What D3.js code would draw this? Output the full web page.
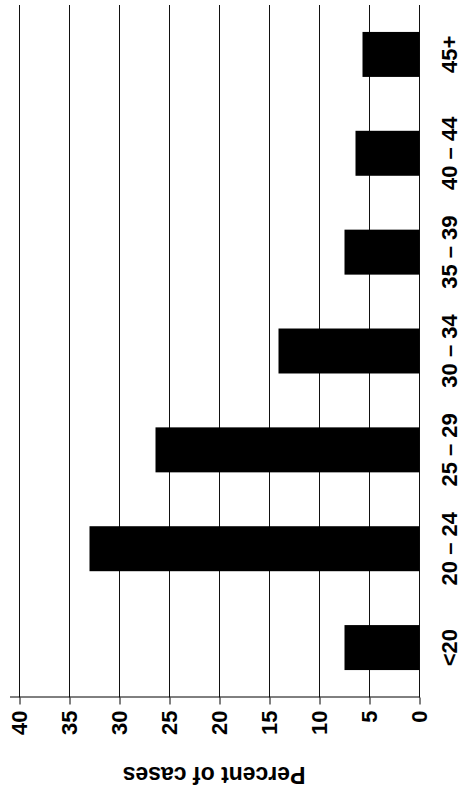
<!DOCTYPE html>
<html>
<head>
<meta charset="utf-8">
<script src="https://cdn.jsdelivr.net/npm/d3@7"></script>
<style>
  html, body { margin: 0; padding: 0; background: #fff; }
  svg { display: block; }
  text { font-family: "Liberation Sans", Arial, Helvetica, sans-serif; font-weight: bold; fill: #000; }
</style>
</head>
<body>
<script>
// Data
const categories = ["<20", "20 \u2013 24", "25 \u2013 29", "30 \u2013 34", "35 \u2013 39", "40 \u2013 44", "45+"];
const percentOfCases = [7.5, 33.0, 26.4, 14.1, 7.5, 6.4, 5.7];
const valueTicks = [0, 5, 10, 15, 20, 25, 30, 35, 40];
const valueTitle = "Percent of cases";

const W = 463, H = 791;
const svg = d3.select("body").append("svg").attr("width", W).attr("height", H);

// Draw a normal vertical bar chart in a frame of H x W, then rotate it -90deg.
const g = svg.append("g").attr("transform", `translate(0,${H}) rotate(-90)`);

const x = d3.scaleBand().domain(categories).range([94, 786])
  .paddingInner(0.545).paddingOuter(0.2725);
const y = d3.scaleLinear().domain([0, 41]).range([419.5, 9.5]);

// gridlines
g.append("g").selectAll("line").data(valueTicks).join("line")
  .attr("x1", 93.5).attr("x2", 786)
  .attr("y1", d => y(d)).attr("y2", d => y(d))
  .attr("stroke", "#111").attr("stroke-width", 1);

// bars
g.append("g").selectAll("rect").data(categories).join("rect")
  .attr("x", d => x(d))
  .attr("width", x.bandwidth())
  .attr("y", (d, i) => y(percentOfCases[i]))
  .attr("height", (d, i) => y(0) - y(percentOfCases[i]))
  .attr("fill", "#000");

// value axis (left in frame -> bottom after rotation)
const yAxis = d3.axisLeft(y).tickValues(valueTicks).tickSizeInner(7).tickSizeOuter(0).tickPadding(6);
const ya = g.append("g").attr("transform", "translate(93.5,0)").call(yAxis);
ya.select(".domain").attr("stroke", "#000");
ya.selectAll(".tick line").attr("stroke", "#000");
ya.selectAll(".tick text").attr("font-size", 22).attr("font-family", null).attr("fill", "#000");

// category axis (bottom in frame -> right after rotation)
const xAxis = d3.axisBottom(x).tickSize(0).tickPadding(22);
const xa = g.append("g").attr("transform", `translate(0,${y(0)})`).call(xAxis);
xa.select(".domain").remove();
xa.selectAll(".tick text").attr("font-size", 22).attr("font-family", null).attr("fill", "#000");

// axis title
g.append("text")
  .attr("transform", "translate(24,214) rotate(-90)")
  .attr("text-anchor", "middle")
  .attr("font-size", 23)
  .text(valueTitle);
</script>
</body>
</html>
